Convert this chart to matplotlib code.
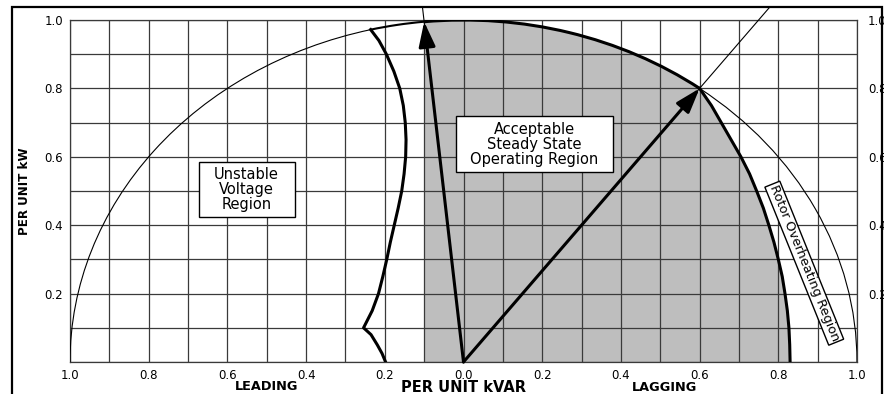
import numpy as np
import matplotlib.pyplot as plt
from matplotlib.patches import Arc, Polygon, Rectangle, Circle
from matplotlib.ticker import MultipleLocator

plt.rcParams['font.family'] = ['DejaVu Sans']

# ---- values ----
x_ticks = [-1.0, -0.8, -0.6, -0.4, -0.2, 0.0, 0.2, 0.4, 0.6, 0.8, 1.0]
x_tick_labels = ['1.0', '0.8', '0.6', '0.4', '0.2', '0.0', '0.2', '0.4', '0.6', '0.8', '1.0']
y_ticks = [0.2, 0.4, 0.6, 0.8, 1.0]
y_tick_labels = ['0.2', '0.4', '0.6', '0.8', '1.0']

# rated power factor point (lagging) and leading limit point
rated_q, rated_p = 0.6, 0.8
lead_q, lead_p = -0.1, 0.995

# steady state stability (unstable voltage) limit
voltage_q = [-0.236, -0.215, -0.196, -0.177, -0.162, -0.153, -0.148, -0.146,
             -0.147, -0.151, -0.157, -0.166, -0.176, -0.186, -0.195, -0.205,
             -0.216, -0.232, -0.254, -0.235, -0.219, -0.207, -0.198]
voltage_p = [0.972, 0.94, 0.90, 0.85, 0.80, 0.75, 0.70, 0.65,
             0.60, 0.55, 0.50, 0.45, 0.40, 0.35, 0.30, 0.25,
             0.20, 0.15, 0.10, 0.08, 0.05, 0.025, 0.0]

# rotor (field) heating limit
rotor_q = [0.6, 0.63, 0.655, 0.68, 0.705, 0.727, 0.745, 0.762, 0.776,
           0.789, 0.80, 0.81, 0.817, 0.823, 0.827, 0.829, 0.83]
rotor_p = [0.8, 0.75, 0.70, 0.65, 0.60, 0.55, 0.50, 0.45, 0.40,
           0.35, 0.30, 0.25, 0.20, 0.15, 0.10, 0.05, 0.0]

fig = plt.figure(figsize=(8.88, 3.94), dpi=100)
ax = fig.add_axes([70 / 888, 32 / 394, 787 / 888, 342 / 394])
ax.set_xlim(-1, 1)
ax.set_ylim(0, 1)

grid_c = '#3a3a3a'
ax.xaxis.set_minor_locator(MultipleLocator(0.1))
ax.yaxis.set_minor_locator(MultipleLocator(0.1))
ax.set_xticks(x_ticks, x_tick_labels)
ax.set_yticks(y_ticks, y_tick_labels)
ax.grid(which='both', color=grid_c, lw=0.9)
ax.tick_params(which='both', length=0, labelsize=8.5)
ax.tick_params(axis='x', pad=5)
ax.tick_params(axis='y', pad=5)
for s in ax.spines.values():
    s.set_color(grid_c)
    s.set_linewidth(0.9)

axr = ax.twinx()
axr.set_ylim(0, 1)
axr.set_yticks(y_ticks, y_tick_labels)
axr.tick_params(length=0, labelsize=8.5, pad=8)
for s in axr.spines.values():
    s.set_visible(False)

# acceptable operating region
region = [(lead_q, 0), (lead_q, 1.1), (rated_q, 1.1)] + list(zip(rotor_q, rotor_p))
fill = Polygon(region, closed=True, facecolor='#bebebe', edgecolor='none', zorder=1)
ax.add_patch(fill)
fill.set_clip_path(Circle((0, 0), 1, transform=ax.transData))

# unit circle (stator limit)
ang_rated = np.degrees(np.arctan2(rated_p, rated_q))
ang_lead = np.degrees(np.arctan2(lead_p, lead_q))
ang_volt = np.degrees(np.arctan2(voltage_p[0], voltage_q[0]))
ax.add_patch(Arc((0, 0), 2, 2, theta1=0, theta2=ang_rated, lw=0.8, color='k', zorder=3))
ax.add_patch(Arc((0, 0), 2, 2, theta1=ang_rated, theta2=ang_lead, lw=2.2, color='k', zorder=3))
ax.add_patch(Arc((0, 0), 2, 2, theta1=ang_lead, theta2=ang_volt, lw=1.5, color='k', zorder=3))
ax.add_patch(Arc((0, 0), 2, 2, theta1=ang_volt, theta2=180, lw=0.8, color='k', zorder=3))

ax.plot(voltage_q, voltage_p, color='k', lw=2.2, zorder=3)
ax.plot(rotor_q, rotor_p, color='k', lw=2.2, zorder=3)

# thin power factor lines, running out to the frame
ax.plot([0, lead_q * 1.1], [0, lead_p * 1.1], color='k', lw=0.8, clip_on=False, zorder=3)
ax.plot([0, rated_q * 1.35], [0, rated_p * 1.35], color='k', lw=0.8, clip_on=False, zorder=3)

arrow = dict(arrowstyle='-|>,head_length=1.5,head_width=0.5', color='k', lw=2.2,
             shrinkA=0, shrinkB=0)
ax.annotate('', xy=(lead_q, lead_p), xytext=(0, 0), arrowprops=arrow, zorder=4)
ax.annotate('', xy=(rated_q, rated_p), xytext=(0, 0), arrowprops=arrow, zorder=4)

# labelled boxes
ax.add_patch(Rectangle((-0.673, 0.424), 0.244, 0.161, fc='w', ec='k', lw=1, zorder=5))
ax.text(-0.551, 0.504, 'Unstable\nVoltage\nRegion', ha='center', va='center',
        fontsize=10.5, linespacing=1.0, zorder=6)
ax.add_patch(Rectangle((-0.018, 0.556), 0.397, 0.163, fc='w', ec='k', lw=1, zorder=5))
ax.text(0.180, 0.637, 'Acceptable\nSteady State\nOperating Region', ha='center',
        va='center', fontsize=10.5, linespacing=1.0, zorder=6)
ax.text(0.866, 0.289, 'Rotor Overheating Region', rotation=-68, rotation_mode='anchor',
        ha='center', va='center', fontsize=9.3, zorder=6,
        bbox=dict(boxstyle='square,pad=0.12', fc='w', ec='k', lw=1))

# axis titles
ax.text(-0.5, -0.073, 'LEADING', ha='center', va='center', fontsize=9.3,
        fontweight='bold', clip_on=False)
ax.text(0.51, -0.076, 'LAGGING', ha='center', va='center', fontsize=9.3,
        fontweight='bold', clip_on=False)
ax.text(0.0, -0.076, 'PER UNIT kVAR', ha='center', va='center', fontsize=10.5,
        fontweight='bold', clip_on=False)
ax.set_ylabel('PER UNIT kW', fontsize=8.6, fontweight='bold')
ax.yaxis.set_label_coords(-0.05, 0.5)

# white margins and outer frame
fig.add_artist(Rectangle((0, (394 - 6.5) / 394), 1, 0.1, transform=fig.transFigure,
                         fc='w', ec='none', zorder=10))
fig.add_artist(Rectangle((883.5 / 888, 0), 0.1, 1, transform=fig.transFigure,
                         fc='w', ec='none', zorder=10))
fig.add_artist(Rectangle((11.5 / 888, -0.1), (882 - 11.5) / 888, (394 - 7.5) / 394 + 0.1,
                         transform=fig.transFigure, fill=False, ec='k', lw=1.6, zorder=11))

fig.savefig('out.png', dpi=100)
